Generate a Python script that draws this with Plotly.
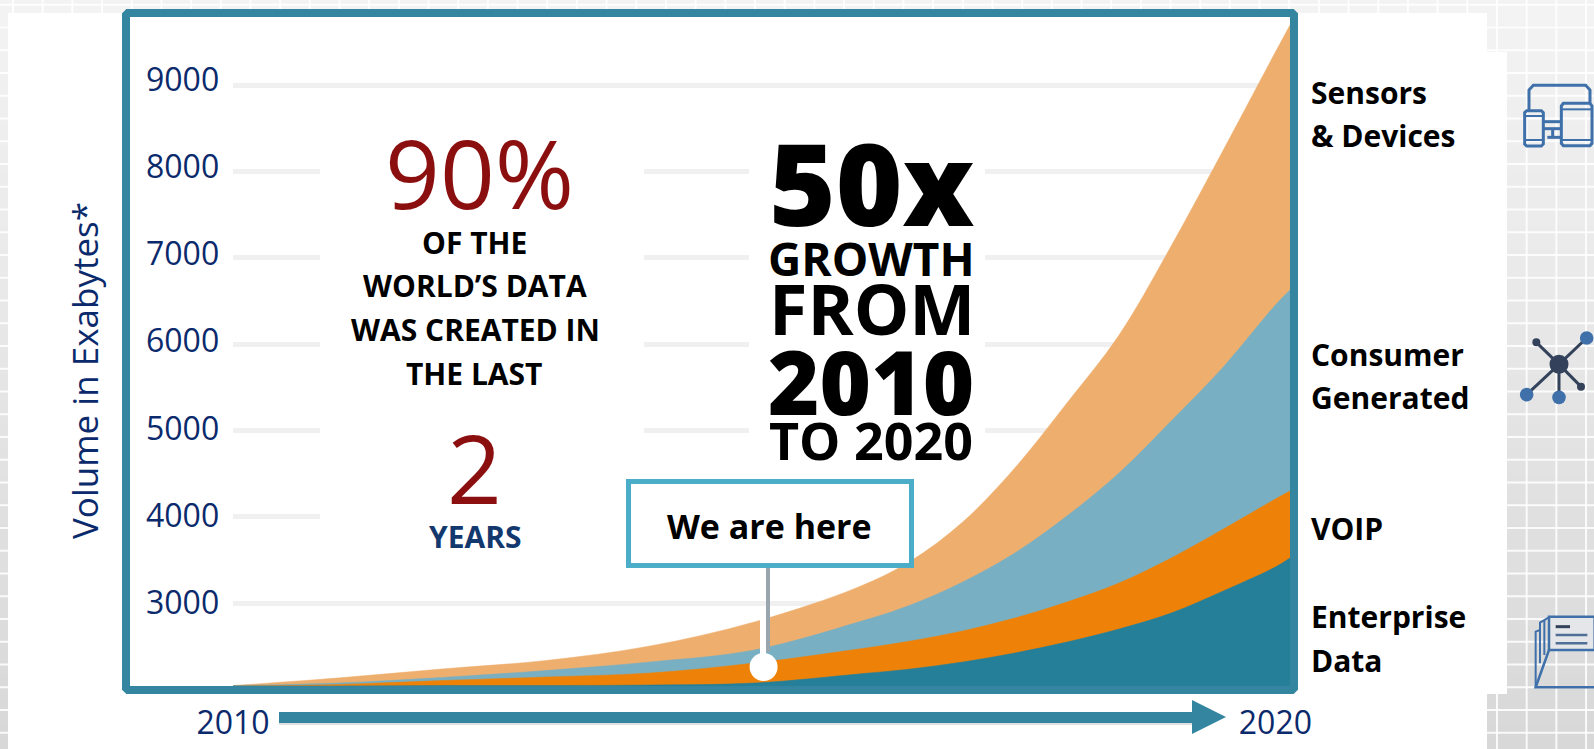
import plotly.graph_objects as go

# Global data volume, read as stacked boundaries on the exabyte axis
years = [2010, 2011, 2012, 2013, 2014, 2015, 2016, 2016.5, 2017, 2017.5,
         2018, 2018.5, 2019, 2019.5, 2020, 2020.14]
sensors_top = [2044, 2131, 2236, 2334, 2502, 2780, 3185, 3486, 3938, 4564,
               5317, 6104, 7135, 8247, 9382, 9695]
consumer_top = [2044, 2073, 2137, 2218, 2317, 2456, 2780, 2977, 3243, 3579,
                4008, 4506, 5108, 5734, 6452, 6626]
voip_top = [2039, 2056, 2102, 2143, 2189, 2305, 2467, 2560, 2676, 2826,
            3012, 3232, 3521, 3857, 4205, 4297]
enterprise_top = [2039, 2039, 2044, 2044, 2050, 2073, 2178, 2236, 2317, 2421,
                  2548, 2699, 2884, 3139, 3417, 3521]

y_ticks = [3000, 4000, 5000, 6000, 7000, 8000, 9000]
x_ticks = [2010, 2020]
here_year = [2015.09]
here_volume = [2259]

series_names = ["Sensors & Devices", "Consumer Generated", "VOIP", "Enterprise Data"]
series_colors = ["#EEAF6E", "#78AFC3", "#EE8208", "#267F99"]

W, H = 1594, 749
TEAL = "#34859F"
NAVY = "#0B2A6C"
RED = "#8C0F0F"
FONT = "Open Sans"


def fx(px):
    return px / W


def fy(py):
    return 1 - py / H


X_LEFT, X_RIGHT = 233, 1290
Y_TOP, Y_BOTTOM = 17, 686
X_MIN, X_MAX = 2010, 2020.14
Y_MIN, Y_MAX = 2039, 9788


def xval(px):
    return X_MIN + (px - X_LEFT) / (X_RIGHT - X_LEFT) * (X_MAX - X_MIN)


def yval(py):
    return Y_MIN + (Y_BOTTOM - py) / (Y_BOTTOM - Y_TOP) * (Y_MAX - Y_MIN)


shapes = []


def page_rect(x0, y0, x1, y1, fill, layer="below", line=None, width=0):
    shapes.append(dict(type="rect", xref="paper", yref="paper", layer=layer,
                       x0=fx(x0), x1=fx(x1), y0=fy(y0), y1=fy(y1),
                       fillcolor=fill, line=dict(color=line or fill, width=width)))


def page_line(x0, y0, x1, y1, color, width, layer="above"):
    shapes.append(dict(type="line", xref="paper", yref="paper", layer=layer,
                       x0=fx(x0), x1=fx(x1), y0=fy(y0), y1=fy(y1),
                       line=dict(color=color, width=width)))


def page_path(points, color, width=0, fill=None, closed=False, layer="above"):
    d = "M " + " L ".join(f"{fx(x):.5f} {fy(y):.5f}" for x, y in points)
    if closed:
        d += " Z"
    shapes.append(dict(type="path", xref="paper", yref="paper", layer=layer, path=d,
                       fillcolor=fill or "rgba(0,0,0,0)",
                       line=dict(color=color, width=width)))


def page_circle(cx, cy, r, fill):
    shapes.append(dict(type="circle", xref="paper", yref="paper", layer="above",
                       x0=fx(cx - r), x1=fx(cx + r), y0=fy(cy + r), y1=fy(cy - r),
                       fillcolor=fill, line=dict(width=0)))


# Page background: soft vertical gradient with a white tile grid
BANDS = 30
for i in range(BANDS):
    t = i / (BANDS - 1)
    level = round(243 - t * 27)
    page_rect(0, H * i / BANDS, W, H * (i + 1) / BANDS + 1, f"rgb({level},{level},{level})")
for k in range(-1, 35):
    y = 4.75 + 22.75 * k
    page_line(0, y, W, y, "rgba(255,255,255,0.85)", 2, layer="below")
for k in range(0, 54):
    x = 13 + 29.68 * k
    page_line(x, 0, x, H, "rgba(255,255,255,0.85)", 2, layer="below")
page_rect(8, 13, 1487, H, "white")
page_rect(1487, 52, 1507, 694, "white")

# White panels behind the call-out text interrupt the gridlines
for left, right in [(320, 644), (749, 985)]:
    shapes.append(dict(type="rect", xref="x", yref="y", layer="between",
                       x0=xval(left), x1=xval(right), y0=yval(535), y1=yval(120),
                       fillcolor="white", line=dict(width=0)))

# Chart frame with softly rounded corners
page_path([(126, 15), (128, 13), (1292, 13), (1294, 15), (1294, 688), (1292, 690),
           (128, 690), (126, 688)], TEAL, width=8, closed=True)

# Timeline arrow
page_path([(279, 715), (1192, 715), (1192, 725), (279, 725)], "rgba(0,0,0,0.12)",
          fill="rgba(0,0,0,0.12)", closed=True)
page_path([(279, 712), (1192, 712), (1192, 700), (1226, 717), (1192, 734),
           (1192, 723), (279, 723)], TEAL, fill=TEAL, closed=True)

# "We are here" pointer and box
page_line(768, 568, 768, 652, "#9AA6AE", 4)
page_line(763, 618, 763, 660, "white", 6)
page_rect(628.5, 481.5, 911.5, 565.5, "white", layer="above", line="#4BADC8", width=5)

# Device icon
BLUE = "#3F70A9"
DARK = "#33425A"
dx = lambda z: 1484 + z / 3
dy = lambda z: 60 + z / 3
page_path([(dx(135), dy(150)), (dx(135), dy(90)), (dx(148), dy(76)), (dx(305), dy(76)),
           (dx(318), dy(90)), (dx(318), dy(128))], BLUE, width=3)
page_path([(dx(122), dy(158)), (dx(128), dy(152)), (dx(172), dy(152)), (dx(178), dy(158)),
           (dx(178), dy(252)), (dx(172), dy(258)), (dx(128), dy(258)), (dx(122), dy(252))],
          BLUE, width=3, closed=True)
page_path([(dx(232), dy(138)), (dx(238), dy(130)), (dx(318), dy(130)), (dx(324), dy(138)),
           (dx(324), dy(250)), (dx(318), dy(257)), (dx(238), dy(257)), (dx(232), dy(250))],
          BLUE, width=3, closed=True)
for y0 in (168, 240):
    page_line(dx(122), dy(y0), dx(178), dy(y0), BLUE, 2)
for y0 in (148, 240):
    page_line(dx(232), dy(y0), dx(324), dy(y0), BLUE, 2)
page_line(dx(180), dy(185), dx(232), dy(185), BLUE, 3)
page_line(dx(180), dy(206), dx(232), dy(206), BLUE, 3)
page_line(dx(206), dy(206), dx(206), dy(232), BLUE, 3)
page_line(dx(190), dy(232), dx(232), dy(232), BLUE, 3)

# Network icon
nx = lambda z: 1484 + z / 3
ny = lambda z: 310 + z / 3
for zx, zy, r, col in [(308, 84, 6.8, BLUE), (128, 254, 6.8, BLUE), (225, 262, 6.8, BLUE),
                       (157, 97, 4, DARK), (291, 230, 4, DARK)]:
    page_line(nx(225), ny(163), nx(zx), ny(zy), DARK, 3)
    page_circle(nx(zx), ny(zy), r, col)
page_circle(nx(225), ny(163), 9.5, DARK)

# Stacked files icon
fxz = lambda z: 1484 + z / 3
fyz = lambda z: 600 + z / 3
page_path([(fxz(155), fyz(262)), (fxz(155), fyz(95)), (fxz(168), fyz(90))], BLUE, width=2)
page_path([(fxz(168), fyz(190)), (fxz(168), fyz(68)), (fxz(195), fyz(52))], BLUE, width=2)
page_line(fxz(181), fyz(60), fxz(181), fyz(165), BLUE, 2)
page_path([(fxz(195), fyz(50)), (fxz(332), fyz(50)), (fxz(332), fyz(150)), (fxz(195), fyz(150))],
          BLUE, width=2.5, fill="#E4E6E9", closed=True)
page_path([(fxz(195), fyz(150)), (fxz(155), fyz(262)), (fxz(332), fyz(262))], BLUE, width=2.5)
page_line(fxz(215), fyz(80), fxz(258), fyz(80), DARK, 3)
page_line(fxz(215), fyz(105), fxz(310), fyz(105), "#4F6F96", 2.5)
page_line(fxz(215), fyz(130), fxz(310), fyz(130), "#4F6F96", 2.5)

annotations = []


def label(text, x, y, size, color="black", weight=400, anchor="center", angle=0):
    annotations.append(dict(text=text, xref="paper", yref="paper", x=fx(x), y=fy(y),
                            xanchor=anchor, yanchor="middle", showarrow=False,
                            textangle=angle,
                            font=dict(family=FONT, size=size, color=color, weight=weight)))


# Volume labels sit progressively higher above their gridlines toward the top
for k, tick in enumerate(y_ticks):
    annotations.append(dict(text=str(tick), xref="paper", yref="y", x=fx(221), y=tick,
                            xanchor="right", yanchor="middle", showarrow=False,
                            yshift=1.5 + 0.85 * k,
                            font=dict(family=FONT, size=32, color=NAVY)))

label("Volume in Exabytes*", 85, 371, 35, NAVY, angle=-90)

label("90%", 480, 172, 96, RED)
label("OF THE", 474, 242, 30, weight=700)
label("WORLD’S DATA", 475, 285, 30, weight=700)
label("WAS CREATED IN", 475, 330, 30, weight=700)
label("THE LAST", 474, 373, 30, weight=700)
label("2", 474, 466, 96, RED)
label("YEARS", 475, 536, 30, "#12386E", 700)

label("50x", 872, 181, 114, weight=800)
label("GROWTH", 871, 258, 46, weight=700)
label("FROM", 872, 308, 70, weight=700)
label("2010", 871, 381, 88, weight=800)
label("TO 2020", 871, 439, 52, weight=700)

label("We are here", 769, 526, 34, weight=700)

for text, y in [("Sensors", 92.5), ("&amp; Devices", 136), ("Consumer", 354), ("Generated", 397.5),
                ("VOIP", 528.6), ("Enterprise", 616), ("Data", 660.8)]:
    label(text, 1309, y, 30, weight=700, anchor="left")

fig = go.Figure()
# Drawn back to front so each lower band covers the one above it
for name, tops, color in zip(series_names, [sensors_top, consumer_top, voip_top, enterprise_top],
                             series_colors):
    fig.add_trace(go.Scatter(x=years, y=tops, name=name, mode="lines", fill="tozeroy",
                             fillcolor=color, line=dict(color=color, width=0.5,
                                                        shape="spline", smoothing=1.0)))
fig.add_trace(go.Scatter(x=here_year, y=here_volume, mode="markers", name="We are here",
                         marker=dict(color="white", size=28, line=dict(width=0))))

fig.update_layout(
    width=W, height=H, margin=dict(l=0, r=0, t=0, b=0), autosize=False,
    paper_bgcolor="white", plot_bgcolor="rgba(0,0,0,0)", showlegend=False,
    shapes=shapes, annotations=annotations, hovermode=False,
    xaxis=dict(domain=[fx(X_LEFT), fx(X_RIGHT)], range=[X_MIN, X_MAX], automargin=False,
               tickvals=x_ticks, ticks="", showgrid=False, zeroline=False, showline=False,
               ticklabelstandoff=15, tickfont=dict(family=FONT, size=32, color=NAVY)),
    yaxis=dict(domain=[fy(Y_BOTTOM), fy(Y_TOP)], range=[Y_MIN, Y_MAX], automargin=False,
               tickvals=y_ticks, ticks="", showticklabels=False, showgrid=True,
               gridcolor="#F0F0F0", gridwidth=5, zeroline=False, showline=False),
)

fig.write_html("out.html")
